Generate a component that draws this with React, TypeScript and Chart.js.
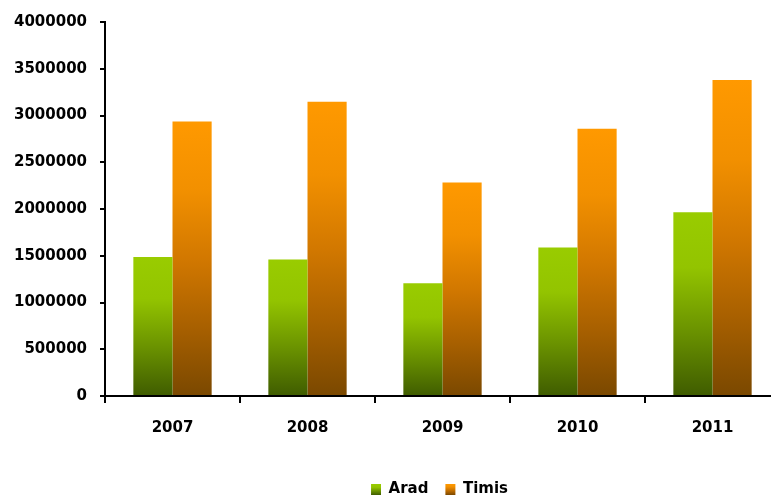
import React, { useEffect, useRef } from "react";
import { Chart, registerables } from "chart.js";

Chart.register(...registerables);

const categories = ["2007", "2008", "2009", "2010", "2011"];
const aradValues = [1486000, 1461000, 1205000, 1589000, 1966000];
const timisValues = [2937000, 3147000, 2283000, 2859000, 3381000];
const seriesNames = ["Arad", "Timis"];

const greenStops: [number, string][] = [
  [0, "#99cc00"],
  [0.3, "#93c400"],
  [0.65, "#6a9200"],
  [1, "#3f5c00"],
];
const orangeStops: [number, string][] = [
  [0, "#ff9900"],
  [0.25, "#f29000"],
  [0.5, "#d27800"],
  [0.75, "#a86000"],
  [1, "#7a4800"],
];

function makeGrad(ctx: CanvasRenderingContext2D, top: number, bottom: number, stops: [number, string][]) {
  const g = ctx.createLinearGradient(0, top, 0, bottom);
  stops.forEach(([o, c]) => g.addColorStop(o, c));
  return g;
}

function barFill(stops: [number, string][]) {
  return (c: any) => {
    const chart = c.chart;
    if (c.type !== "data" || !chart.chartArea || !chart.scales.y) return stops[0][1];
    const ys = chart.scales.y;
    const v = c.parsed ? c.parsed.y : c.raw;
    const top = ys.getPixelForValue(v);
    const base = ys.getPixelForValue(0);
    if (!isFinite(top) || !isFinite(base) || top === base) return stops[0][1];
    return makeGrad(chart.ctx, top, base, stops);
  };
}

const FONT = { family: "'DejaVu Sans', sans-serif", size: 15, weight: "bold" as const };

const legendPlugin = {
  id: "legendTweak",
  beforeDraw(chart: any) {
    const lg = chart.legend;
    if (!lg || !chart.chartArea) return;
    lg.left = chart.chartArea.left - 6;
    lg.right = chart.chartArea.right;
    const boxes = lg.legendHitBoxes || [];
    const items = lg.legendItems || [];
    items.forEach((it: any, i: number) => {
      const hb = boxes[i];
      if (!hb) return;
      const top = hb.top + (hb.height - 11) / 2;
      it.fillStyle = makeGrad(chart.ctx, top, top + 11, i === 0 ? greenStops : orangeStops);
      it.lineWidth = 0;
      it.strokeStyle = "rgba(0,0,0,0)";
    });
  },
};

export default function App() {
  const ref = useRef<HTMLCanvasElement>(null);
  useEffect(() => {
    if (!ref.current) return;
    const chart = new Chart(ref.current, {
      type: "bar",
      data: {
        labels: categories,
        datasets: [
          {
            label: seriesNames[0],
            data: aradValues,
            backgroundColor: barFill(greenStops) as any,
            borderWidth: 0,
            categoryPercentage: 0.58,
            barPercentage: 1,
          },
          {
            label: seriesNames[1],
            data: timisValues,
            backgroundColor: barFill(orangeStops) as any,
            borderWidth: 0,
            categoryPercentage: 0.58,
            barPercentage: 1,
          },
        ],
      },
      options: {
        responsive: false,
        animation: false,
        devicePixelRatio: 1,
        layout: { padding: { top: 21, left: 0, right: 0, bottom: 0 } },
        plugins: {
          legend: {
            position: "bottom",
            labels: {
              font: FONT,
              color: "#000",
              boxWidth: 10,
              boxHeight: 11,
              padding: 17,
            },
          },
          tooltip: { enabled: false },
        },
        scales: {
          x: {
            grid: {
              drawOnChartArea: false,
              offset: true,
              color: "#000",
              lineWidth: 2,
              tickLength: 7,
            },
            border: { color: "#000", width: 2 },
            ticks: { font: FONT, color: "#000", padding: 16, maxRotation: 0 },
            afterFit: (s: any) => {
              s.height = 69;
            },
          },
          y: {
            min: 0,
            max: 4000000,
            grid: {
              drawOnChartArea: false,
              color: "#000",
              lineWidth: 2,
              tickLength: 5,
            },
            border: { color: "#000", width: 2 },
            ticks: {
              stepSize: 500000,
              font: FONT,
              color: "#000",
              padding: 13,
              callback: (v: any) => String(v),
            },
            afterFit: (s: any) => {
              s.width = 105;
            },
          },
        },
      },
      plugins: [legendPlugin],
    });
    return () => chart.destroy();
  }, []);
  return (
    <div
      style={{
        position: "absolute",
        left: 0,
        top: 0,
        width: 771,
        height: 496,
        overflow: "hidden",
        background: "#fff",
      }}
    >
      <canvas ref={ref} width={780} height={507} style={{ display: "block", width: 780, height: 507 }} />
    </div>
  );
}
